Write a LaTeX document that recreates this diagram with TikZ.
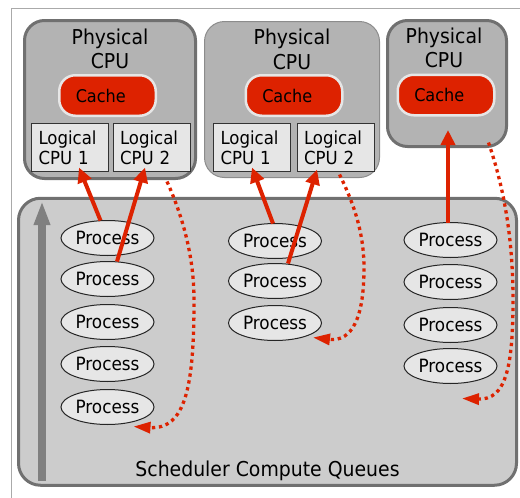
\documentclass[tikz,border=0pt]{standalone}
\usepackage{fontspec}
\setmainfont{DejaVu Sans}[FakeStretch=0.92]
\usetikzlibrary{arrows.meta,calc,shapes.geometric}

\definecolor{cpugray}{RGB}{179,179,179}
\definecolor{cpuedge}{RGB}{112,112,112}
\definecolor{cpuedgelight}{RGB}{140,140,140}
\definecolor{queuegray}{RGB}{204,204,204}
\definecolor{lightfill}{RGB}{230,230,230}
\definecolor{cachered}{RGB}{221,34,0}
\definecolor{framegray}{RGB}{170,170,170}
\definecolor{risegray}{RGB}{128,128,128}
\definecolor{boxedge}{RGB}{51,51,51}

\tikzset{
  cpubox/.style={draw=cpuedge, line width=3pt, fill=cpugray, rounded corners=20pt,
    inner sep=0pt, outer sep=0pt},
  cputitle/.style={anchor=north, align=center, inner sep=0pt,
    font=\fontsize{20.5}{24.5}\selectfont},
  cache/.style={draw=lightfill, line width=2.5pt, fill=cachered, rounded corners=16pt,
    minimum height=40.5pt, text width=63.5pt, inner xsep=16.5pt, inner ysep=0pt,
    align=left, outer sep=0pt, font=\fontsize{17.5}{20}\selectfont},
  logical/.style={draw=boxedge, line width=1pt, fill=lightfill, minimum height=48pt,
    text width=63pt, inner xsep=7pt, inner ysep=0pt, align=left, outer sep=0pt,
    font=\fontsize{18}{20}\selectfont},
  process/.style={ellipse, draw=black!85, line width=1pt, fill=lightfill,
    minimum width=93pt, minimum height=35pt, inner sep=0pt, outer sep=0pt,
    font=\fontsize{18.3}{20}\selectfont},
  queuebox/.style={draw=cpuedge, line width=3pt, fill=queuegray, rounded corners=22pt,
    minimum width=498pt, minimum height=287pt, inner sep=0pt, outer sep=0pt},
  run/.style={draw=cachered, line width=4pt, -{Triangle[length=15pt,width=14pt]}},
  migrate/.style={draw=cachered, line width=3.3pt, dash pattern=on 3.3pt off 3.7pt,
    -{Triangle[length=17pt,width=11pt]}}
}

\begin{document}
\begin{tikzpicture}[x=1pt,y=-1pt]
\useasboundingbox (0,0) rectangle (520,498);

% page frame
\draw[framegray, line width=1pt] (11,498) -- (11,8) -- (520,8);

% scheduler queues
\node[queuebox] (queue) at (267.5,341.75) {};
\node[anchor=base, inner sep=0pt, font=\fontsize{20.5}{24}\selectfont]
  (qlabel) at ($(queue.south)+(0,-9)$) {Scheduler Compute Queues};
\draw[risegray, line width=7.5pt, -{Triangle[length=24pt,width=15pt]}] (42,481) -- (42,201);

% physical CPUs
\node[cpubox, minimum width=171pt, minimum height=158pt] (cpu1) at (110,99.5) {};
\node[cpubox, draw=cpuedgelight, line width=1pt, minimum width=175pt, minimum height=156pt]
  (cpu2) at (292,99.5) {};
\node[cpubox, minimum width=119pt, minimum height=126pt] (cpu3) at (447,83.5) {};

\node[cputitle] (t1) at ($(cpu1.north)+(0,8)$) {Physical\\CPU};
\node[cputitle] (t2) at ($(cpu2.north)+(0,7.5)$) {Physical\\CPU};
\node[cputitle] (t3) at ($(cpu3.north)+(-3,7)$) {Physical\\CPU};

\node[cache] (cache1) at (107.5,95.5) {Cache};
\node[cache] (cache2) at (294,95.5) {Cache};
\node[cache] (cache3) at (446,95) {Cache};

\node[logical] (lc11) at (70,147.5) {Logical\\CPU 1};
\node[logical] (lc12) at (151.5,147.5) {Logical\\CPU 2};
\node[logical] (lc21) at (252,147.5) {Logical\\CPU 1};
\node[logical] (lc22) at (335.5,147.5) {Logical\\CPU 2};

% run queues
\foreach \i/\y in {1/238,2/279,3/322,4/364,5/407}
  \node[process] (p1\i) at (107.5,\y) {Process};
\foreach \i/\y in {1/241,2/281,3/323}
  \node[process] (p2\i) at (275,\y) {Process};
\foreach \i/\y in {1/240,2/282,3/325,4/366}
  \node[process] (p3\i) at (450.5,\y) {Process};

% running processes
\draw[run] ($(p11.north)+(-7,0)$) -- ($(lc11.south)+(9,-4)$);
\draw[run] ($(p12.north)+(9.5,0)$) -- ($(lc12.south)+(-6.5,-4)$);
\draw[run] ($(p21.north)+(-2,0)$) -- ($(lc21.south)+(0,-4)$);
\draw[run] ($(p22.north)+(13,0)$) -- ($(lc22.south)+(-18.5,-2)$);
\draw[run] ($(p31.north)+(-2.5,0)$) -- ($(cpu3.south)+(1,-16.5)$);

% preempted processes return to the queue
\draw[migrate] ($(lc12.south)+(15.5,10)$) .. controls (182,215) and (194,255) .. (194,300)
  .. controls (194,385) and (186,430) .. ($(p15.south)+(26,2)$);
\draw[migrate] ($(lc22.south)+(4,3)$) .. controls (352,200) and (364,230) .. (364,268)
  .. controls (364,318) and (352,342) .. ($(p23.south)+(38,-3)$);
\draw[migrate] ($(cpu3.south east)+(-18,-4)$) .. controls (503,185) and (513,235) .. (513,300)
  .. controls (513,370) and (505,400) .. ($(p34.south)+(11.5,15)$);
\end{tikzpicture}
\end{document}
